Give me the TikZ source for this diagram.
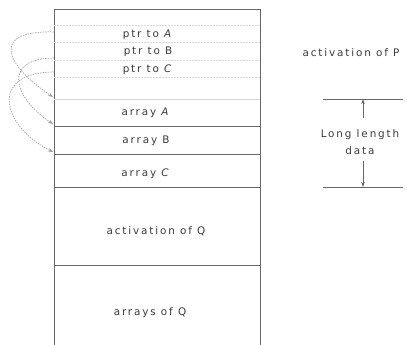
\documentclass[tikz,border=0pt]{standalone}
\usepackage{fontspec}
\setmainfont[LetterSpace=18]{DejaVu Sans}
\usetikzlibrary{arrows.meta}
\definecolor{txt}{HTML}{3A3A3A}
\definecolor{frame}{HTML}{666666}
\definecolor{faint}{HTML}{D8D8D8}
\tikzset{
  lbl/.style={font=\fontsize{10.4}{12}\selectfont, text=txt, inner sep=0pt},
  solidrow/.style={draw=frame, line width=0.8pt},
  lightrow/.style={draw=faint, line width=0.6pt},
  dotrow/.style={draw=faint, line width=0.5pt, dash pattern=on 2pt off 1pt},
  ptrarrow/.style={draw=gray!80, line width=0.6pt, dash pattern=on 1.5pt off 1pt, -{Stealth[length=5pt,width=3.5pt]}},
  dimarrow/.style={draw=frame, line width=0.7pt, -{Stealth[length=5pt,width=3.5pt]}}
}
\begin{document}
\begin{tikzpicture}[x=1pt,y=-1pt]
\useasboundingbox (0,0) rectangle (407,345);
% frame
\draw[solidrow] (54,345) -- (54,9) -- (260,9) -- (260,345);
% faint dotted rows
\foreach \yy in {25,42,60,77} \draw[dotrow] (54,\yy) -- (260,\yy);
\draw[lightrow] (54,99) -- (260,99);
\foreach \yy in {126,154,187,265} \draw[solidrow] (54,\yy) -- (260,\yy);
% labels
\node[lbl] (pa) at (148,35) {ptr to \textit{A}};
\node[lbl] (pb) at (148,52) {ptr to B};
\node[lbl] (pc) at (148,70) {ptr to \textit{C}};
\node[lbl] (aa) at (146,113) {array \textit{A}};
\node[lbl] (ab) at (146,141) {array B};
\node[lbl] (ac) at (146,174) {array \textit{C}};
\node[lbl] (aq) at (156,231) {activation of Q};
\node[lbl] (rq) at (150,313) {arrays of Q};
\node[lbl] (ap) at (351,53) {activation of P};
% pointer coordinates
\coordinate (sa) at (54,32);
\coordinate (sb) at (54,58);
\coordinate (sc) at (54,72);
\coordinate (ea) at (53,97);
\coordinate (eb) at (53,124);
\coordinate (ec) at (53,152);
\draw[ptrarrow] (sa) .. controls (-10,30) and (5,65) .. (ea);
\draw[ptrarrow] (sb) .. controls (5,58) and (10,95) .. (eb);
\draw[ptrarrow] (sc) .. controls (-10,72) and (0,125) .. (ec);
% dimension
\coordinate (t1) at (323,99);
\coordinate (t2) at (403,99);
\coordinate (b1) at (323,187);
\coordinate (b2) at (403,187);
\draw[solidrow, line width=0.6pt] (t1) -- (t2);
\draw[solidrow, line width=0.6pt] (b1) -- (b2);
\node[lbl] (ll) at (360,135) {Long length};
\node[lbl] (dd) at (360,151) {data};
\coordinate (us) at (363,118);
\coordinate (ut) at (363,99);
\coordinate (ds) at (363,161);
\coordinate (ub) at (363,187);
\draw[dimarrow] (us) -- (ut);
\draw[dimarrow] (ds) -- (ub);
\end{tikzpicture}
\end{document}
